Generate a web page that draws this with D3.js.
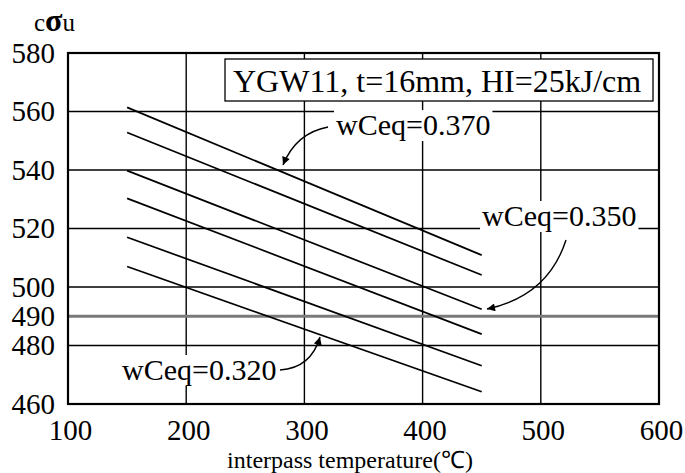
<!DOCTYPE html>
<html><head><meta charset="utf-8">
<script src="https://cdn.jsdelivr.net/npm/d3@7"></script>
<style>
body{margin:0;background:#fff}
svg text{font-family:"Liberation Serif","Times New Roman",serif !important;fill:#000}
</style>
</head><body>
<svg id="chart" width="685" height="473" font-family="Liberation Serif, Times New Roman, serif"></svg>
<script>
// ---- data ----
const xTicks = [100, 200, 300, 400, 500, 600];
const yTicks = [460, 480, 490, 500, 520, 540, 560, 580];
const temps = [150, 450];                       // interpass temperature endpoints
const sigmaAt150 = [561.4, 552.8, 539.8, 530.3, 517.0, 507.0];
const sigmaAt450 = [510.9, 504.1, 492.4, 483.9, 473.1, 464.2];
const refLevel = 490;
const ceqLabels = ["wCeq=0.370", "wCeq=0.350", "wCeq=0.320"];
const titleText = "YGW11, t=16mm, HI=25kJ/cm";
const xTitle = "interpass temperature(\u2103)";

// ---- layout ----
const FONT = "Liberation Serif, Times New Roman, serif";
const svg = d3.select("#chart");
const L = 68, R = 659, T = 53, B = 404;
const x = d3.scaleLinear().domain([100, 600]).range([L, R]);
const y = d3.scaleLinear().domain([460, 580]).range([B, T]);

// grid
const g = svg.append("g");
g.selectAll("line.vx").data(xTicks.filter(d => d > 100 && d < 600)).join("line")
  .attr("x1", d => x(d)).attr("x2", d => x(d)).attr("y1", T).attr("y2", B)
  .attr("stroke", "#000").attr("stroke-width", 1.4);
g.selectAll("line.hy").data(yTicks.filter(d => d > 460 && d < 580 && d !== refLevel)).join("line")
  .attr("x1", L).attr("x2", R).attr("y1", d => y(d)).attr("y2", d => y(d))
  .attr("stroke", "#000").attr("stroke-width", 1.4);
g.append("line").attr("x1", L).attr("x2", R).attr("y1", y(refLevel)).attr("y2", y(refLevel))
  .attr("stroke", "#7a7a7a").attr("stroke-width", 3.2);

// series lines
const series = sigmaAt150.map((v, i) => [[temps[0], v], [temps[1], sigmaAt450[i]]]);
const lineGen = d3.line().x(d => x(d[0])).y(d => y(d[1]));
svg.append("g").selectAll("path").data(series).join("path")
  .attr("d", lineGen).attr("fill", "none").attr("stroke", "#000").attr("stroke-width", 1.7);

// frame
svg.append("rect").attr("x", L).attr("y", T).attr("width", R - L).attr("height", B - T)
  .attr("fill", "none").attr("stroke", "#000").attr("stroke-width", 2.2);

// axes
const ya = svg.append("g").attr("transform", `translate(${L},0)`)
  .call(d3.axisLeft(y).tickValues(yTicks).tickSize(0).tickPadding(13).tickFormat(d3.format("d")))
  .attr("font-family", FONT).attr("font-size", 29);
ya.select(".domain").remove();
ya.selectAll("text").attr("font-size", 29).attr("font-family", FONT);

const xa = svg.append("g").attr("transform", `translate(0,${B})`)
  .call(d3.axisBottom(x).tickValues(xTicks).tickSize(0).tickPadding(15).tickFormat(d3.format("d")))
  .attr("font-family", FONT).attr("font-size", 29);
xa.select(".domain").remove();
xa.selectAll("text").attr("font-size", 29).attr("dx", 2).attr("font-family", FONT);

// axis titles
const yt = svg.append("text").attr("x", 34).attr("y", 31).attr("font-size", 25);
yt.append("tspan").text("c");
yt.append("tspan").text("\u03c3").attr("font-size", 32).attr("font-weight", "bold");
yt.append("tspan").text("u");
svg.append("text").attr("x", 350).attr("y", 467.5).attr("text-anchor", "middle")
  .attr("font-size", 24).text(xTitle);

// title box
svg.append("rect").attr("x", 225).attr("y", 59).attr("width", 428).attr("height", 42)
  .attr("fill", "#fff").attr("stroke", "#000").attr("stroke-width", 1.3);
svg.append("text").attr("x", 233).attr("y", 92).attr("font-size", 32).text(titleText);

// arrow marker
svg.append("defs").append("marker").attr("id", "ah")
  .attr("viewBox", "0 0 10 10").attr("refX", 10).attr("refY", 5)
  .attr("markerUnits", "userSpaceOnUse").attr("markerWidth", 12).attr("markerHeight", 8)
  .attr("orient", "auto")
  .append("path").attr("d", "M0,0L10,5L0,10Z").attr("fill", "#000");

// annotation labels with white backgrounds
const labelPos = [[336, 135], [482, 226], [122, 380]];
ceqLabels.forEach((t, i) => {
  const lg = svg.append("g");
  const tx = lg.append("text").attr("x", labelPos[i][0]).attr("y", labelPos[i][1])
    .attr("font-size", 30).text(t);
  const bb = tx.node().getBBox();
  lg.insert("rect", "text").attr("x", bb.x - 2).attr("y", bb.y + 2)
    .attr("width", bb.width + 4).attr("height", bb.height - 2).attr("fill", "#fff");
});

// arrows
const arrows = [
  "M328,127 Q296,133 283,165",
  "M566,240 Q548,296 487,309",
  "M280,370 Q311,368 320,337"
];
svg.append("g").selectAll("path").data(arrows).join("path")
  .attr("d", d => d).attr("fill", "none").attr("stroke", "#000").attr("stroke-width", 1.4)
  .attr("marker-end", "url(#ah)");
</script>
</body></html>
